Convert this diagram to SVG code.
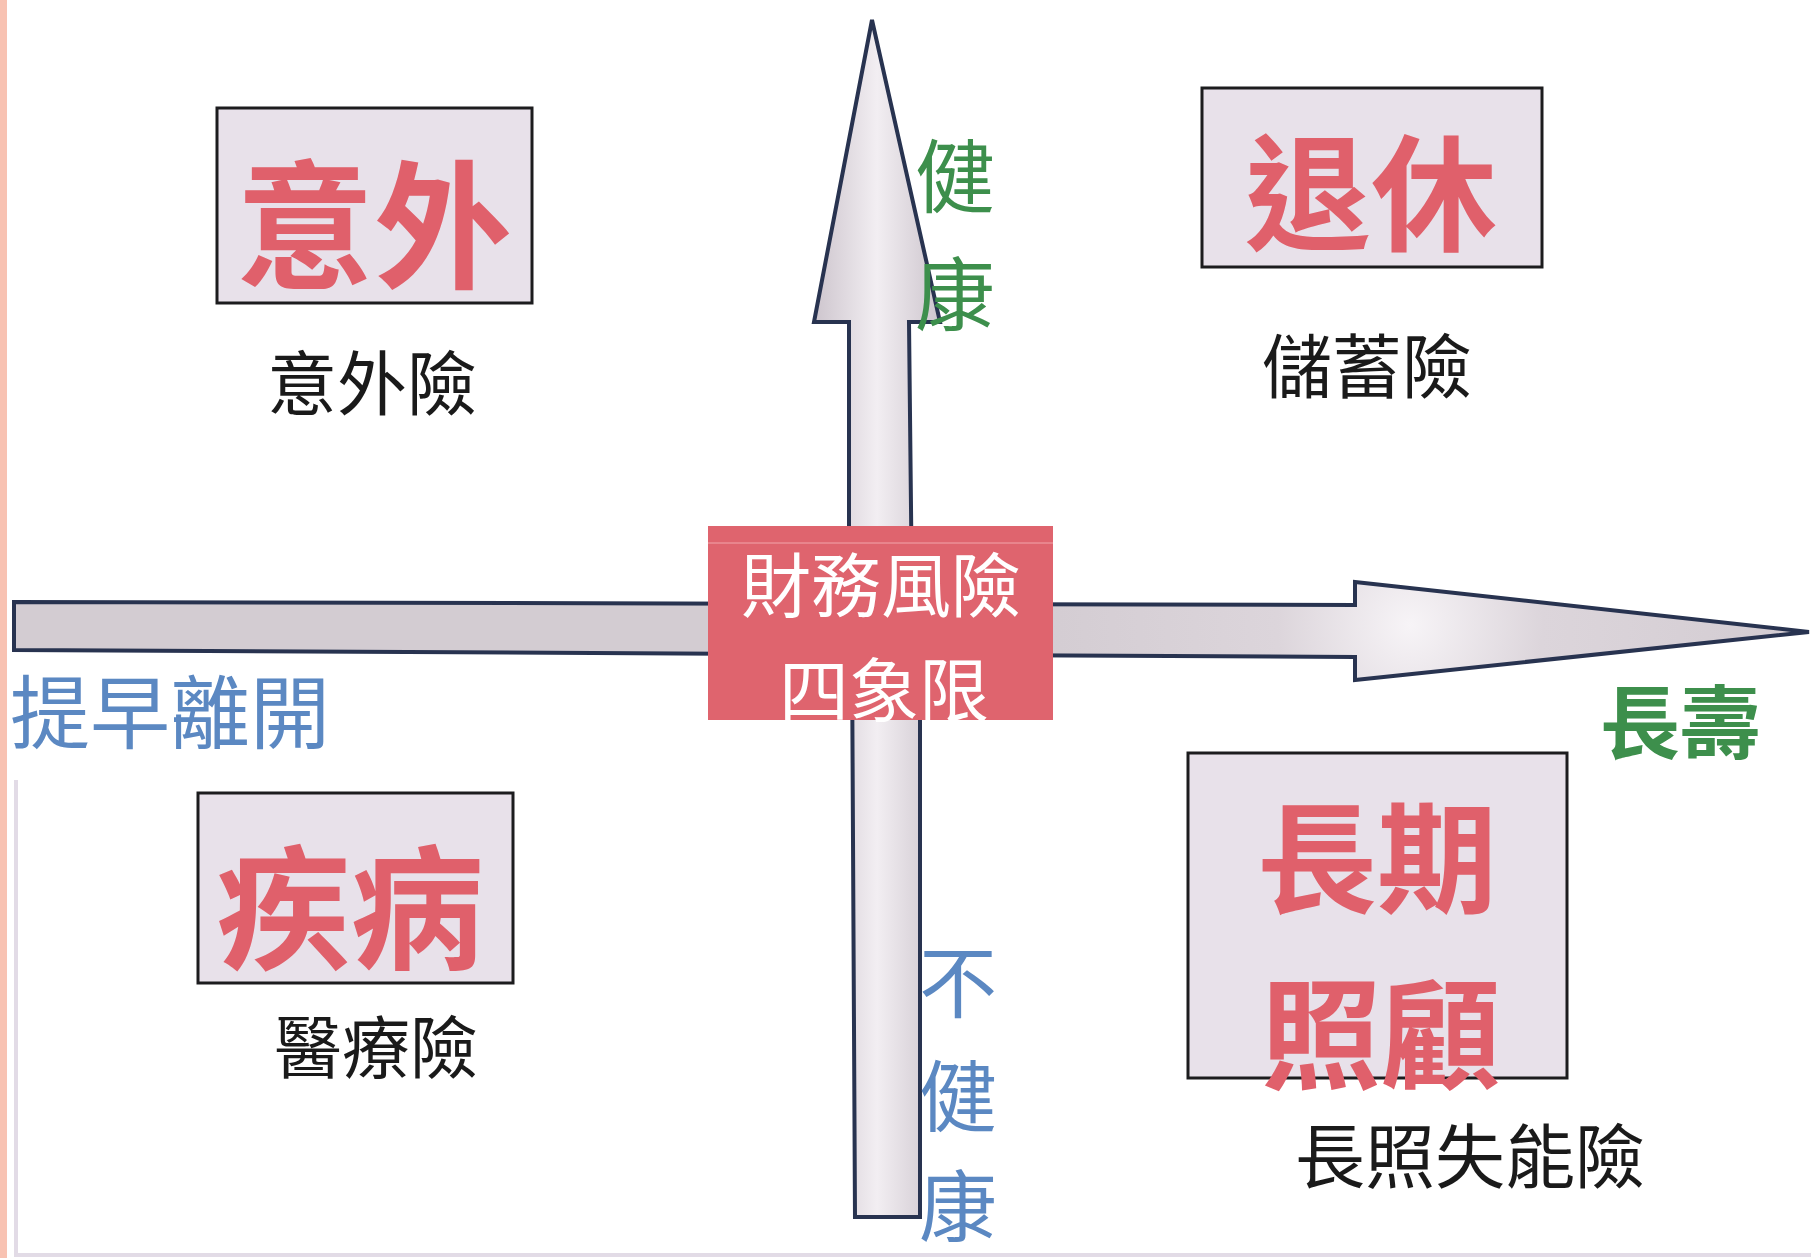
<svg xmlns="http://www.w3.org/2000/svg" width="1811" height="1258" viewBox="0 0 1811 1258">
  <defs>
    <style>
      .box { fill: #e8e1ea; stroke: #1c1c1e; stroke-width: 3; }
      .arrow { stroke: #283350; stroke-width: 4; stroke-linejoin: miter; }
      .cjk { font-family: "Noto Sans CJK TC", "Noto Sans CJK SC", sans-serif; }
      .head { fill: #e0606b; font-weight: 700; text-anchor: middle; }
      .sub { fill: #1a1a1a; font-weight: 400; text-anchor: middle; }
      .center { fill: #ffffff; font-weight: 400; text-anchor: middle; }
      .green { fill: #3d8f4c; text-anchor: middle; }
      .blue { fill: #5b88c2; }
    </style>
    <linearGradient id="vgrad" x1="0" y1="0" x2="1" y2="0">
      <stop offset="0" stop-color="#cdc5cd"/>
      <stop offset="0.5" stop-color="#f2eef2"/>
      <stop offset="1" stop-color="#cdc5cd"/>
    </linearGradient>
    <radialGradient id="hgrad" cx="1410" cy="625" r="380" gradientUnits="userSpaceOnUse">
      <stop offset="0" stop-color="#f7f4f7"/>
      <stop offset="0.35" stop-color="#dcd5db"/>
      <stop offset="1" stop-color="#d3ccd2"/>
    </radialGradient>
  </defs>

  <rect x="0" y="0" width="1811" height="1258" fill="#ffffff"/>
  <rect x="0" y="0" width="7" height="1258" fill="#f8c2b2"/>
  <path d="M16,780 L16,1255 L1811,1255" fill="none" stroke="#e2dbe6" stroke-width="4"/>

  <g id="connectors">
    <polygon id="axis-horizontal" class="arrow" fill="url(#hgrad)"
      points="14,602 1355,605 1355,582 1809,632 1355,680 1355,657 14,650"/>
    <polygon id="axis-vertical" class="arrow" fill="url(#vgrad)"
      points="872,20 940,322 909,322 912,600 920,650 920,1217 855,1217 852,650 849,600 849,322 814,322"/>
  </g>

  <g id="node-center">
    <rect x="708" y="526" width="345" height="194" fill="#df646e"/>
    <line x1="708" y1="543" x2="1053" y2="543" stroke="#f2a5ab" stroke-width="1"/>
    <text class="cjk center" x="881" y="612" font-size="70">財務風險</text>
    <text class="cjk center" x="884" y="717" font-size="70">四象限</text>
  </g>

  <g id="node-accident">
    <rect class="box" x="217" y="108" width="315" height="195"/>
    <text class="cjk head" x="374" y="277" font-size="138">意外</text>
    <text class="cjk sub" x="372" y="410" font-size="70">意外險</text>
  </g>

  <g id="node-retire">
    <rect class="box" x="1202" y="88" width="340" height="179"/>
    <text class="cjk head" x="1371" y="241" font-size="126">退休</text>
    <text class="cjk sub" x="1367" y="393" font-size="70">儲蓄險</text>
  </g>

  <g id="node-illness">
    <rect class="box" x="198" y="793" width="315" height="190"/>
    <text class="cjk head" x="350" y="959" font-size="134">疾病</text>
    <text class="cjk sub" x="376" y="1073" font-size="68">醫療險</text>
  </g>

  <g id="node-ltc">
    <rect class="box" x="1188" y="753" width="379" height="325"/>
    <text class="cjk head" x="1377" y="904" font-size="120">長期</text>
    <text class="cjk head" x="1381" y="1080" font-size="120">照顧</text>
    <text class="cjk sub" x="1470" y="1183" font-size="70">長照失能險</text>
  </g>

  <g id="label-healthy">
    <text class="cjk green" x="955" y="206" font-size="80">健</text>
    <text class="cjk green" x="955" y="324" font-size="80">康</text>
  </g>

  <g id="label-longevity">
    <text class="cjk green" x="1680" y="752" font-size="80" font-weight="700">長壽</text>
  </g>

  <g id="label-early">
    <text class="cjk blue" x="10" y="742" font-size="80">提早離開</text>
  </g>

  <g id="label-unhealthy">
    <text class="cjk blue" x="958" y="1012" font-size="78" text-anchor="middle">不</text>
    <text class="cjk blue" x="958" y="1126" font-size="78" text-anchor="middle">健</text>
    <text class="cjk blue" x="958" y="1236" font-size="78" text-anchor="middle">康</text>
  </g>
</svg>
